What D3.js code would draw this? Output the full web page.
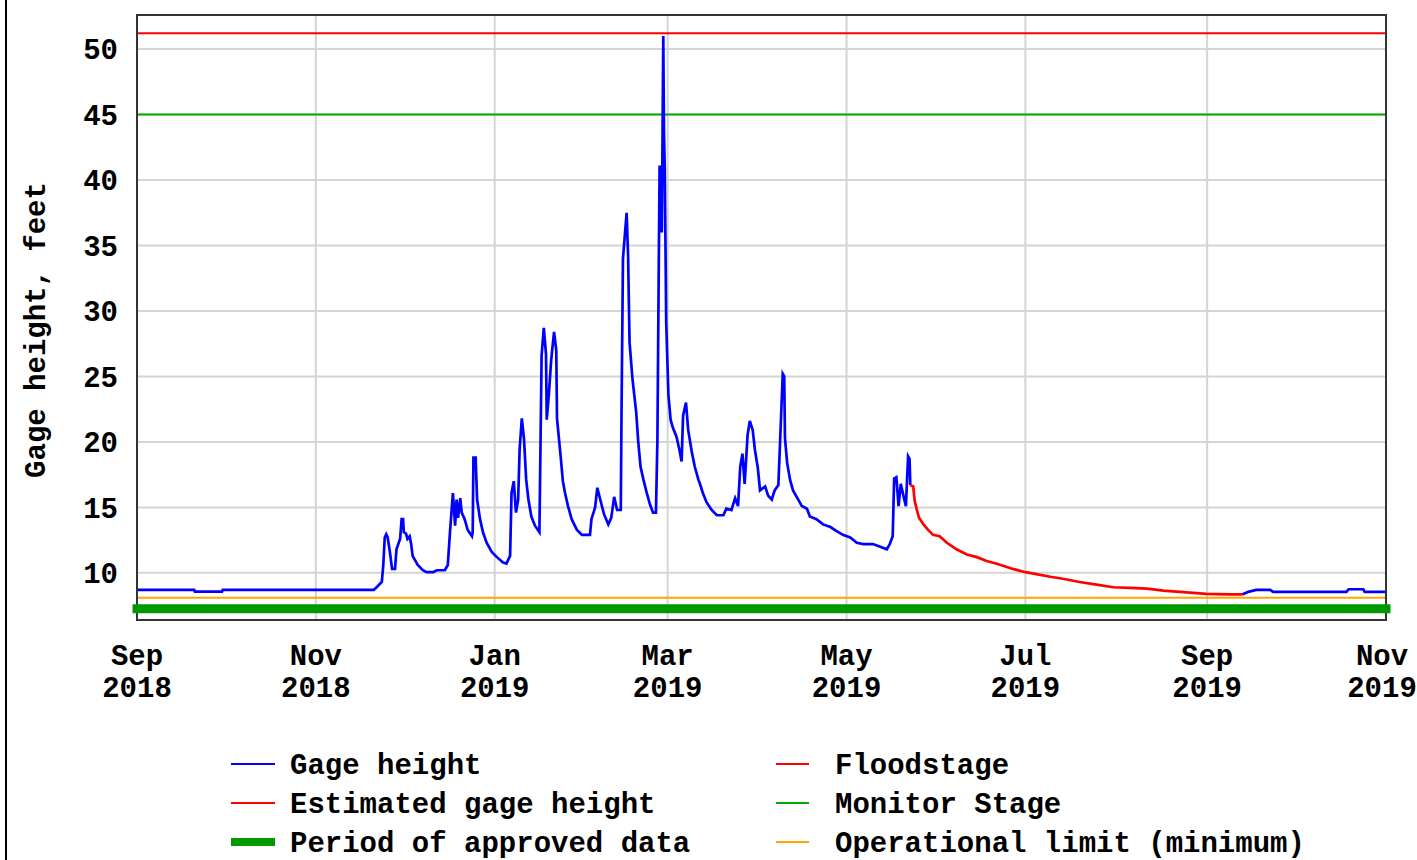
<!DOCTYPE html>
<html>
<head>
<meta charset="utf-8">
<script src="https://cdn.jsdelivr.net/npm/d3@7"></script>
<style>
  body { margin: 0; background: #fff; }
  text { font-family: "Liberation Mono", "DejaVu Sans Mono", monospace; font-weight: bold; font-size: 29px; fill: #000; }
</style>
</head>
<body>
<script>
// gage height, approved (blue), first part
var gageDates = ["2018-09-01 00","2018-09-20 12","2018-09-20 18","2018-09-30 00","2018-09-30 06","2018-11-20 18","2018-11-21 18","2018-11-23 12","2018-11-24 00","2018-11-24 12","2018-11-25 00","2018-11-25 12","2018-11-26 06","2018-11-27 00","2018-11-28 00","2018-11-28 12","2018-11-29 18","2018-11-30 06","2018-11-30 18","2018-12-01 00","2018-12-01 18","2018-12-02 06","2018-12-03 00","2018-12-03 12","2018-12-04 00","2018-12-05 18","2018-12-07 12","2018-12-08 18","2018-12-11 00","2018-12-12 06","2018-12-15 00","2018-12-16 00","2018-12-16 18","2018-12-17 18","2018-12-18 12","2018-12-19 00","2018-12-19 12","2018-12-20 06","2018-12-20 18","2018-12-21 18","2018-12-22 18","2018-12-24 06","2018-12-24 12","2018-12-24 18","2018-12-25 12","2018-12-26 00","2018-12-27 00","2018-12-28 00","2018-12-29 06","2018-12-31 00","2019-01-01 18","2019-01-03 18","2019-01-05 00","2019-01-06 06","2019-01-06 18","2019-01-07 12","2019-01-08 06","2019-01-09 00","2019-01-09 12","2019-01-10 06","2019-01-11 00","2019-01-11 18","2019-01-12 12","2019-01-13 12","2019-01-14 18","2019-01-16 06","2019-01-17 00","2019-01-17 18","2019-01-18 12","2019-01-18 18","2019-01-19 12","2019-01-20 06","2019-01-21 06","2019-01-22 00","2019-01-22 06","2019-01-23 12","2019-01-24 06","2019-01-25 00","2019-01-26 00","2019-01-27 06","2019-01-29 00","2019-01-30 18","2019-02-02 12","2019-02-03 00","2019-02-04 06","2019-02-05 00","2019-02-06 00","2019-02-07 06","2019-02-08 18","2019-02-09 18","2019-02-10 18","2019-02-11 18","2019-02-13 00","2019-02-13 06","2019-02-13 18","2019-02-15 00","2019-02-15 12","2019-02-16 00","2019-02-17 00","2019-02-18 06","2019-02-19 00","2019-02-19 18","2019-02-20 18","2019-02-21 18","2019-02-23 00","2019-02-24 00","2019-02-25 00","2019-02-25 12","2019-02-26 00","2019-02-26 06","2019-02-27 00","2019-02-27 12","2019-02-27 18","2019-02-28 00","2019-02-28 12","2019-03-01 06","2019-03-02 00","2019-03-02 18","2019-03-04 00","2019-03-05 00","2019-03-05 18","2019-03-06 06","2019-03-07 06","2019-03-08 00","2019-03-09 06","2019-03-10 06","2019-03-11 12","2019-03-12 00","2019-03-13 00","2019-03-14 06","2019-03-16 00","2019-03-17 18","2019-03-20 00","2019-03-21 00","2019-03-22 18","2019-03-24 00","2019-03-25 00","2019-03-25 18","2019-03-26 12","2019-03-27 06","2019-03-28 06","2019-03-29 00","2019-03-30 00","2019-03-30 18","2019-03-31 18","2019-04-01 12","2019-04-03 06","2019-04-04 06","2019-04-05 12","2019-04-06 12","2019-04-07 18","2019-04-08 06","2019-04-09 06","2019-04-09 18","2019-04-10 00","2019-04-10 18","2019-04-11 18","2019-04-12 18","2019-04-14 00","2019-04-15 18","2019-04-17 12","2019-04-18 12","2019-04-20 18","2019-04-23 00","2019-04-25 12","2019-04-27 12","2019-04-29 18","2019-05-02 06","2019-05-04 12","2019-05-06 18","2019-05-10 00","2019-05-12 12","2019-05-14 18","2019-05-15 18","2019-05-16 18","2019-05-17 06","2019-05-18 00","2019-05-18 18","2019-05-19 12","2019-05-20 12","2019-05-21 06","2019-05-22 00","2019-05-22 12","2019-05-22 18"];
var gageValues = [8.7,8.7,8.57,8.57,8.7,8.7,8.9,9.3,10.6,12.7,12.95,12.7,11.6,10.3,10.3,11.8,12.6,14.1,14.1,13.1,13.0,12.6,12.8,12.2,11.3,10.6,10.2,10.05,10.05,10.2,10.2,10.6,13.1,16.1,13.6,15.6,14.2,15.7,14.6,14.1,13.3,12.8,13.1,18.8,18.8,15.6,14.1,13.1,12.3,11.6,11.2,10.8,10.7,11.3,16.1,17.0,14.6,15.6,19.4,21.8,20.2,17.1,15.6,14.3,13.6,13.1,26.6,28.7,26.7,21.7,23.7,26.2,28.4,27.0,21.8,18.9,17.0,16.1,15.1,14.1,13.3,12.9,12.9,14.1,15.0,16.5,15.6,14.5,13.7,14.2,15.8,14.8,14.8,22.1,34.0,37.5,34.2,27.6,24.8,22.3,19.9,18.1,17.1,16.2,15.2,14.6,14.6,20.2,34.6,41.1,36.0,51.0,43.5,41.0,29.1,23.6,21.7,21.1,20.4,19.4,18.5,22.0,23.0,20.9,19.2,18.1,17.1,16.8,16.1,15.4,14.8,14.4,14.4,14.9,14.8,15.7,15.1,18.1,19.1,16.8,20.5,21.6,20.9,19.4,18.0,16.3,16.6,15.9,15.6,16.3,16.7,19.5,25.2,25.0,20.3,18.4,17.1,16.3,15.8,15.1,14.9,14.3,14.1,13.7,13.5,13.2,12.9,12.7,12.3,12.2,12.2,12.0,11.8,12.2,12.8,17.2,17.3,15.1,16.8,15.8,15.1,18.9,18.7,16.7];

// estimated gage height (red)
var estDates = ["2019-05-22 18","2019-05-23 18","2019-05-24 06","2019-05-25 00","2019-05-25 18","2019-05-27 06","2019-05-28 18","2019-05-30 12","2019-06-01 18","2019-06-04 06","2019-06-07 12","2019-06-11 00","2019-06-14 12","2019-06-17 18","2019-06-21 06","2019-06-26 18","2019-07-01 00","2019-07-04 18","2019-07-09 12","2019-07-13 18","2019-07-19 12","2019-07-25 06","2019-07-31 00","2019-08-05 18","2019-08-11 12","2019-08-17 00","2019-08-22 18","2019-08-31 18","2019-09-08 18","2019-09-13 00"];
var estValues = [16.7,16.6,15.5,14.8,14.2,13.7,13.3,12.9,12.8,12.3,11.8,11.4,11.2,10.9,10.7,10.3,10.05,9.9,9.7,9.55,9.3,9.1,8.9,8.85,8.8,8.65,8.55,8.4,8.35,8.35];

// gage height again after the estimated period (blue)
var gage2Dates = ["2019-09-13 00","2019-09-15 00","2019-09-17 18","2019-09-22 12","2019-09-23 12","2019-10-18 12","2019-10-19 06","2019-10-24 06","2019-10-24 18","2019-11-01 00"];
var gage2Values = [8.35,8.55,8.7,8.7,8.55,8.55,8.75,8.75,8.55,8.55];

var floodStage = 51.2, monitorStage = 45, operationalLimit = 8.1, approvedLevel = 7.25;
var yTicks = [10, 15, 20, 25, 30, 35, 40, 45, 50];

var legendLeft = ["Gage height", "Estimated gage height", "Period of approved data"];
var legendRight = ["Floodstage", "Monitor Stage", "Operational limit (minimum)"];

var parse = d3.timeParse("%Y-%m-%d %H");
var start = parse("2018-09-01 00"), end = parse("2019-11-01 00");

var width = 1417, height = 860;
var plotLeft = 137, plotRight = 1386, plotTop = 15, plotBottom = 620;

var blue = "#0000ff", red = "#ff0000", green = "#00aa00", darkGreen = "#009900", orange = "#ffa500";

var x = d3.scaleTime().domain([start, end]).range([plotLeft, plotRight]);
var y = d3.scaleLinear().domain([6.4, 52.6]).range([plotBottom, plotTop]);

var svg = d3.select("body").append("svg")
    .attr("width", width)
    .attr("height", height);

svg.append("rect").attr("width", width).attr("height", height).attr("fill", "#fff");
svg.append("rect").attr("x", 5).attr("y", 0).attr("width", 2).attr("height", height).attr("fill", "#000");

var xTicks = d3.timeMonth.every(2).range(start, d3.timeDay.offset(end, 1));

// grid
svg.append("g").selectAll("line").data(yTicks).enter().append("line")
    .attr("x1", plotLeft).attr("x2", plotRight)
    .attr("y1", function(d) { return y(d); }).attr("y2", function(d) { return y(d); })
    .attr("stroke", "#d4d4d4").attr("stroke-width", 2);

svg.append("g").selectAll("line").data(xTicks).enter().append("line")
    .attr("x1", function(d) { return x(d); }).attr("x2", function(d) { return x(d); })
    .attr("y1", plotTop).attr("y2", plotBottom)
    .attr("stroke", "#d4d4d4").attr("stroke-width", 2);

// threshold lines
function hline(v, color, w) {
  svg.append("line")
    .attr("x1", plotLeft).attr("x2", plotRight)
    .attr("y1", y(v)).attr("y2", y(v))
    .attr("stroke", color).attr("stroke-width", w);
}
hline(floodStage, red, 2);
hline(monitorStage, green, 2);
hline(operationalLimit, orange, 2);

// series
var line = d3.line()
    .x(function(d) { return x(d[0]); })
    .y(function(d) { return y(d[1]); });

function series(dates, values, color) {
  var pts = dates.map(function(d, i) { return [parse(d), values[i]]; });
  svg.append("path").datum(pts)
    .attr("d", line)
    .attr("fill", "none")
    .attr("stroke", color)
    .attr("stroke-width", 2.7)
    .attr("stroke-linejoin", "miter");
}
series(gageDates, gageValues, blue);
series(estDates, estValues, red);
series(gage2Dates, gage2Values, blue);

// frame
svg.append("rect")
    .attr("x", plotLeft).attr("y", plotTop)
    .attr("width", plotRight - plotLeft).attr("height", plotBottom - plotTop)
    .attr("fill", "none").attr("stroke", "#333").attr("stroke-width", 2);

// period of approved data bar
svg.append("line")
    .attr("x1", x(start)).attr("x2", x(end))
    .attr("y1", y(approvedLevel)).attr("y2", y(approvedLevel))
    .attr("stroke", darkGreen).attr("stroke-width", 9)
    .attr("stroke-linecap", "square");

// y axis labels
svg.append("g").selectAll("text").data(yTicks).enter().append("text")
    .attr("x", 118)
    .attr("y", function(d) { return y(d); })
    .attr("dy", "0.36em")
    .attr("text-anchor", "end")
    .text(function(d) { return d; });

svg.append("text")
    .attr("transform", "translate(45,330) rotate(-90)")
    .attr("text-anchor", "middle")
    .text("Gage height, feet");

// x axis labels (last one nudged in so it stays on the page)
var xl = svg.append("g").selectAll("g").data(xTicks).enter().append("g")
    .attr("transform", function(d) { return "translate(" + Math.min(x(d), width - 35) + ",0)"; });
xl.append("text").attr("y", 665).attr("text-anchor", "middle").text(d3.timeFormat("%b"));
xl.append("text").attr("y", 697).attr("text-anchor", "middle").text(d3.timeFormat("%Y"));

// legend
var rowsY = [764, 803, 842];
var leftColors = [blue, red, darkGreen], leftWidths = [2, 2, 8];
var rightColors = [red, green, orange];

legendLeft.forEach(function(t, i) {
  svg.append("line").attr("x1", 231).attr("x2", 275).attr("y1", rowsY[i]).attr("y2", rowsY[i])
    .attr("stroke", leftColors[i]).attr("stroke-width", leftWidths[i]);
  svg.append("text").attr("x", 290).attr("y", rowsY[i]).attr("dy", "0.34em").text(t);
});
legendRight.forEach(function(t, i) {
  svg.append("line").attr("x1", 776).attr("x2", 809).attr("y1", rowsY[i]).attr("y2", rowsY[i])
    .attr("stroke", rightColors[i]).attr("stroke-width", 2);
  svg.append("text").attr("x", 835).attr("y", rowsY[i]).attr("dy", "0.34em").text(t);
});
</script>
</body>
</html>
